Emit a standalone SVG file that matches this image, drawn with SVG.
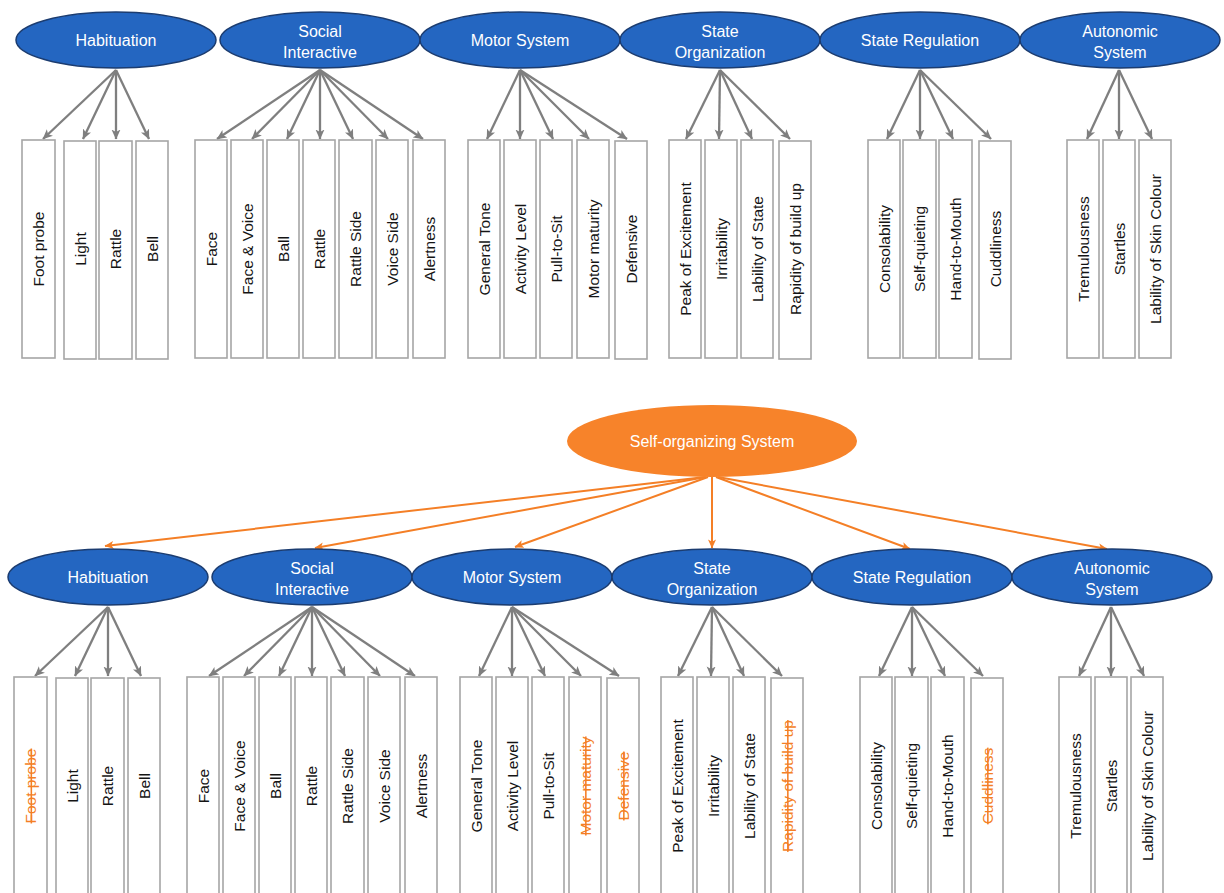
<svg xmlns="http://www.w3.org/2000/svg" width="1224" height="893" viewBox="0 0 1224 893">
<style>
.bg{fill:#ffffff}
.ell{fill:#2466C1;stroke:#1B3C70;stroke-width:1.5}
.root{fill:#F7832A}
.et{font-family:"Liberation Sans",Arial,sans-serif;font-size:16px;fill:#ffffff;text-anchor:middle}
.box{fill:#ffffff;stroke:#A6A6A6;stroke-width:1.6}
.bt{font-family:"Liberation Sans",Arial,sans-serif;font-size:15.5px;fill:#141414;text-anchor:middle}
.del{fill:#F47F26;text-decoration:line-through}
.g{stroke:#7F7F7F;stroke-width:2.3;fill:none;marker-end:url(#ag)}
.o{stroke:#F47F26;stroke-width:2;fill:none;marker-end:url(#ao)}
</style>
<defs>
<marker id="ag" viewBox="0 0 10 10" refX="9.5" refY="5" markerWidth="10" markerHeight="10" markerUnits="userSpaceOnUse" orient="auto">
<path d="M0,0.5 L10,5 L0,9.5 L2.5,5 z" fill="#7F7F7F"/>
</marker>
<marker id="ao" viewBox="0 0 10 10" refX="9.5" refY="5" markerWidth="9" markerHeight="9" markerUnits="userSpaceOnUse" orient="auto">
<path d="M0,0.5 L10,5 L0,9.5 L2.5,5 z" fill="#F47F26"/>
</marker>
</defs>
<rect class="bg" x="0" y="0" width="1224" height="893"/>

<g id="connectors">
<g id="top-connectors">
<line class="g" x1="116" y1="70" x2="43" y2="139"/>
<line class="g" x1="116" y1="70" x2="83" y2="139"/>
<line class="g" x1="116" y1="70" x2="116" y2="139"/>
<line class="g" x1="116" y1="70" x2="149" y2="139"/>
<line class="g" x1="320" y1="70" x2="217" y2="139"/>
<line class="g" x1="320" y1="70" x2="252" y2="139"/>
<line class="g" x1="320" y1="70" x2="287" y2="139"/>
<line class="g" x1="320" y1="70" x2="320" y2="139"/>
<line class="g" x1="320" y1="70" x2="353" y2="139"/>
<line class="g" x1="320" y1="70" x2="388" y2="139"/>
<line class="g" x1="320" y1="70" x2="423" y2="139"/>
<line class="g" x1="520" y1="70" x2="487" y2="139"/>
<line class="g" x1="520" y1="70" x2="520" y2="139"/>
<line class="g" x1="520" y1="70" x2="553" y2="139"/>
<line class="g" x1="520" y1="70" x2="589" y2="139"/>
<line class="g" x1="520" y1="70" x2="627" y2="139"/>
<line class="g" x1="720" y1="70" x2="686" y2="139"/>
<line class="g" x1="720" y1="70" x2="719" y2="139"/>
<line class="g" x1="720" y1="70" x2="752" y2="139"/>
<line class="g" x1="720" y1="70" x2="790" y2="139"/>
<line class="g" x1="920" y1="70" x2="887" y2="139"/>
<line class="g" x1="920" y1="70" x2="920" y2="139"/>
<line class="g" x1="920" y1="70" x2="953" y2="139"/>
<line class="g" x1="920" y1="70" x2="991" y2="139"/>
<line class="g" x1="1119" y1="70" x2="1087" y2="139"/>
<line class="g" x1="1119" y1="70" x2="1119" y2="139"/>
<line class="g" x1="1119" y1="70" x2="1152" y2="139"/>
</g>
<g id="bottom-connectors" transform="translate(-8,537)">
<line class="g" x1="116" y1="70" x2="43" y2="139"/>
<line class="g" x1="116" y1="70" x2="83" y2="139"/>
<line class="g" x1="116" y1="70" x2="116" y2="139"/>
<line class="g" x1="116" y1="70" x2="149" y2="139"/>
<line class="g" x1="320" y1="70" x2="217" y2="139"/>
<line class="g" x1="320" y1="70" x2="252" y2="139"/>
<line class="g" x1="320" y1="70" x2="287" y2="139"/>
<line class="g" x1="320" y1="70" x2="320" y2="139"/>
<line class="g" x1="320" y1="70" x2="353" y2="139"/>
<line class="g" x1="320" y1="70" x2="388" y2="139"/>
<line class="g" x1="320" y1="70" x2="423" y2="139"/>
<line class="g" x1="520" y1="70" x2="487" y2="139"/>
<line class="g" x1="520" y1="70" x2="520" y2="139"/>
<line class="g" x1="520" y1="70" x2="553" y2="139"/>
<line class="g" x1="520" y1="70" x2="589" y2="139"/>
<line class="g" x1="520" y1="70" x2="627" y2="139"/>
<line class="g" x1="720" y1="70" x2="686" y2="139"/>
<line class="g" x1="720" y1="70" x2="719" y2="139"/>
<line class="g" x1="720" y1="70" x2="752" y2="139"/>
<line class="g" x1="720" y1="70" x2="790" y2="139"/>
<line class="g" x1="920" y1="70" x2="887" y2="139"/>
<line class="g" x1="920" y1="70" x2="920" y2="139"/>
<line class="g" x1="920" y1="70" x2="953" y2="139"/>
<line class="g" x1="920" y1="70" x2="991" y2="139"/>
<line class="g" x1="1119" y1="70" x2="1087" y2="139"/>
<line class="g" x1="1119" y1="70" x2="1119" y2="139"/>
<line class="g" x1="1119" y1="70" x2="1152" y2="139"/>
</g>
<g id="root-connectors">
<line class="o" x1="705" y1="477" x2="105" y2="546"/>
<line class="o" x1="706" y1="477" x2="315" y2="548"/>
<line class="o" x1="708" y1="477" x2="515" y2="547"/>
<line class="o" x1="712" y1="477" x2="712" y2="548"/>
<line class="o" x1="716" y1="477" x2="910" y2="549"/>
<line class="o" x1="718" y1="477" x2="1107" y2="549"/>
</g>
</g>

<g id="top-row">
<g id="t-habituation"><ellipse class="ell" cx="116" cy="40" rx="100" ry="28"/><text class="et" x="116" y="46">Habituation</text></g>
<g id="t-social"><ellipse class="ell" cx="320" cy="40" rx="100" ry="28"/><text class="et" x="320" y="37">Social</text><text class="et" x="320" y="58">Interactive</text></g>
<g id="t-motor"><ellipse class="ell" cx="520" cy="40" rx="100" ry="28"/><text class="et" x="520" y="46">Motor System</text></g>
<g id="t-stateorg"><ellipse class="ell" cx="720" cy="40" rx="100" ry="28"/><text class="et" x="720" y="37">State</text><text class="et" x="720" y="58">Organization</text></g>
<g id="t-statereg"><ellipse class="ell" cx="920" cy="40" rx="100" ry="28"/><text class="et" x="920" y="46">State Regulation</text></g>
<g id="t-autonomic"><ellipse class="ell" cx="1120" cy="40" rx="100" ry="28"/><text class="et" x="1120" y="37">Autonomic</text><text class="et" x="1120" y="58">System</text></g>

<g id="t-footprobe"><rect class="box" x="22" y="140" width="33" height="218"/><text class="bt" transform="translate(38.5,249) rotate(-90)" y="5.5">Foot probe</text></g>
<g id="t-light"><rect class="box" x="64" y="141" width="32" height="218"/><text class="bt" transform="translate(80,249) rotate(-90)" y="5.5">Light</text></g>
<g id="t-rattle1"><rect class="box" x="99" y="141" width="33" height="218"/><text class="bt" transform="translate(115.5,249) rotate(-90)" y="5.5">Rattle</text></g>
<g id="t-bell"><rect class="box" x="136" y="141" width="32" height="218"/><text class="bt" transform="translate(152,249) rotate(-90)" y="5.5">Bell</text></g>

<g id="t-face"><rect class="box" x="195" y="140" width="32" height="218"/><text class="bt" transform="translate(211,249) rotate(-90)" y="5.5">Face</text></g>
<g id="t-facevoice"><rect class="box" x="231" y="140" width="32" height="218"/><text class="bt" transform="translate(247,249) rotate(-90)" y="5.5">Face &amp; Voice</text></g>
<g id="t-ball"><rect class="box" x="267" y="140" width="32" height="218"/><text class="bt" transform="translate(283,249) rotate(-90)" y="5.5">Ball</text></g>
<g id="t-rattle2"><rect class="box" x="303" y="140" width="32" height="218"/><text class="bt" transform="translate(319,249) rotate(-90)" y="5.5">Rattle</text></g>
<g id="t-rattleside"><rect class="box" x="339" y="140" width="33" height="218"/><text class="bt" transform="translate(355.5,249) rotate(-90)" y="5.5">Rattle Side</text></g>
<g id="t-voiceside"><rect class="box" x="376" y="140" width="32" height="218"/><text class="bt" transform="translate(392,249) rotate(-90)" y="5.5">Voice Side</text></g>
<g id="t-alertness"><rect class="box" x="413" y="140" width="32" height="218"/><text class="bt" transform="translate(429,249) rotate(-90)" y="5.5">Alertness</text></g>

<g id="t-generaltone"><rect class="box" x="468" y="140" width="32" height="218"/><text class="bt" transform="translate(484,249) rotate(-90)" y="5.5">General Tone</text></g>
<g id="t-activity"><rect class="box" x="504" y="140" width="32" height="218"/><text class="bt" transform="translate(520,249) rotate(-90)" y="5.5">Activity Level</text></g>
<g id="t-pulltosit"><rect class="box" x="540" y="140" width="32" height="218"/><text class="bt" transform="translate(556,249) rotate(-90)" y="5.5">Pull-to-Sit</text></g>
<g id="t-motormaturity"><rect class="box" x="577" y="140" width="32" height="218"/><text class="bt" transform="translate(593,249) rotate(-90)" y="5.5">Motor maturity</text></g>
<g id="t-defensive"><rect class="box" x="615" y="141" width="32" height="218"/><text class="bt" transform="translate(631,249) rotate(-90)" y="5.5">Defensive</text></g>

<g id="t-peak"><rect class="box" x="669" y="140" width="32" height="218"/><text class="bt" transform="translate(685,249) rotate(-90)" y="5.5">Peak of Excitement</text></g>
<g id="t-irritability"><rect class="box" x="705" y="140" width="32" height="218"/><text class="bt" transform="translate(721,249) rotate(-90)" y="5.5">Irritability</text></g>
<g id="t-lability"><rect class="box" x="741" y="140" width="32" height="218"/><text class="bt" transform="translate(757,249) rotate(-90)" y="5.5">Lability of State</text></g>
<g id="t-rapidity"><rect class="box" x="779" y="141" width="32" height="218"/><text class="bt" transform="translate(795,249) rotate(-90)" y="5.5">Rapidity of build up</text></g>

<g id="t-consolability"><rect class="box" x="868" y="140" width="32" height="218"/><text class="bt" transform="translate(884,249) rotate(-90)" y="5.5">Consolability</text></g>
<g id="t-selfquieting"><rect class="box" x="903" y="140" width="33" height="218"/><text class="bt" transform="translate(919.5,249) rotate(-90)" y="5.5">Self-quieting</text></g>
<g id="t-handtomouth"><rect class="box" x="939" y="140" width="33" height="218"/><text class="bt" transform="translate(955.5,249) rotate(-90)" y="5.5">Hand-to-Mouth</text></g>
<g id="t-cuddliness"><rect class="box" x="979" y="141" width="32" height="218"/><text class="bt" transform="translate(995,249) rotate(-90)" y="5.5">Cuddliness</text></g>

<g id="t-tremulousness"><rect class="box" x="1067" y="140" width="32" height="218"/><text class="bt" transform="translate(1083,249) rotate(-90)" y="5.5">Tremulousness</text></g>
<g id="t-startles"><rect class="box" x="1103" y="140" width="32" height="218"/><text class="bt" transform="translate(1119,249) rotate(-90)" y="5.5">Startles</text></g>
<g id="t-skincolour"><rect class="box" x="1139" y="140" width="32" height="218"/><text class="bt" transform="translate(1155,249) rotate(-90)" y="5.5">Lability of Skin Colour</text></g>
</g>

<g id="root"><ellipse class="root" cx="712" cy="441" rx="145" ry="36"/><text class="et" x="712" y="447">Self-organizing System</text></g>

<g id="bottom-row" transform="translate(-8,537)">
<g id="b-habituation"><ellipse class="ell" cx="116" cy="40" rx="100" ry="28"/><text class="et" x="116" y="46">Habituation</text></g>
<g id="b-social"><ellipse class="ell" cx="320" cy="40" rx="100" ry="28"/><text class="et" x="320" y="37">Social</text><text class="et" x="320" y="58">Interactive</text></g>
<g id="b-motor"><ellipse class="ell" cx="520" cy="40" rx="100" ry="28"/><text class="et" x="520" y="46">Motor System</text></g>
<g id="b-stateorg"><ellipse class="ell" cx="720" cy="40" rx="100" ry="28"/><text class="et" x="720" y="37">State</text><text class="et" x="720" y="58">Organization</text></g>
<g id="b-statereg"><ellipse class="ell" cx="920" cy="40" rx="100" ry="28"/><text class="et" x="920" y="46">State Regulation</text></g>
<g id="b-autonomic"><ellipse class="ell" cx="1120" cy="40" rx="100" ry="28"/><text class="et" x="1120" y="37">Autonomic</text><text class="et" x="1120" y="58">System</text></g>

<g id="b-footprobe"><rect class="box" x="22" y="140" width="33" height="218"/><text class="bt del" transform="translate(38.5,249) rotate(-90)" y="5.5">Foot probe</text></g>
<g id="b-light"><rect class="box" x="64" y="141" width="32" height="218"/><text class="bt" transform="translate(80,249) rotate(-90)" y="5.5">Light</text></g>
<g id="b-rattle1"><rect class="box" x="99" y="141" width="33" height="218"/><text class="bt" transform="translate(115.5,249) rotate(-90)" y="5.5">Rattle</text></g>
<g id="b-bell"><rect class="box" x="136" y="141" width="32" height="218"/><text class="bt" transform="translate(152,249) rotate(-90)" y="5.5">Bell</text></g>

<g id="b-face"><rect class="box" x="195" y="140" width="32" height="218"/><text class="bt" transform="translate(211,249) rotate(-90)" y="5.5">Face</text></g>
<g id="b-facevoice"><rect class="box" x="231" y="140" width="32" height="218"/><text class="bt" transform="translate(247,249) rotate(-90)" y="5.5">Face &amp; Voice</text></g>
<g id="b-ball"><rect class="box" x="267" y="140" width="32" height="218"/><text class="bt" transform="translate(283,249) rotate(-90)" y="5.5">Ball</text></g>
<g id="b-rattle2"><rect class="box" x="303" y="140" width="32" height="218"/><text class="bt" transform="translate(319,249) rotate(-90)" y="5.5">Rattle</text></g>
<g id="b-rattleside"><rect class="box" x="339" y="140" width="33" height="218"/><text class="bt" transform="translate(355.5,249) rotate(-90)" y="5.5">Rattle Side</text></g>
<g id="b-voiceside"><rect class="box" x="376" y="140" width="32" height="218"/><text class="bt" transform="translate(392,249) rotate(-90)" y="5.5">Voice Side</text></g>
<g id="b-alertness"><rect class="box" x="413" y="140" width="32" height="218"/><text class="bt" transform="translate(429,249) rotate(-90)" y="5.5">Alertness</text></g>

<g id="b-generaltone"><rect class="box" x="468" y="140" width="32" height="218"/><text class="bt" transform="translate(484,249) rotate(-90)" y="5.5">General Tone</text></g>
<g id="b-activity"><rect class="box" x="504" y="140" width="32" height="218"/><text class="bt" transform="translate(520,249) rotate(-90)" y="5.5">Activity Level</text></g>
<g id="b-pulltosit"><rect class="box" x="540" y="140" width="32" height="218"/><text class="bt" transform="translate(556,249) rotate(-90)" y="5.5">Pull-to-Sit</text></g>
<g id="b-motormaturity"><rect class="box" x="577" y="140" width="32" height="218"/><text class="bt del" transform="translate(593,249) rotate(-90)" y="5.5">Motor maturity</text></g>
<g id="b-defensive"><rect class="box" x="615" y="141" width="32" height="218"/><text class="bt del" transform="translate(631,249) rotate(-90)" y="5.5">Defensive</text></g>

<g id="b-peak"><rect class="box" x="669" y="140" width="32" height="218"/><text class="bt" transform="translate(685,249) rotate(-90)" y="5.5">Peak of Excitement</text></g>
<g id="b-irritability"><rect class="box" x="705" y="140" width="32" height="218"/><text class="bt" transform="translate(721,249) rotate(-90)" y="5.5">Irritability</text></g>
<g id="b-lability"><rect class="box" x="741" y="140" width="32" height="218"/><text class="bt" transform="translate(757,249) rotate(-90)" y="5.5">Lability of State</text></g>
<g id="b-rapidity"><rect class="box" x="779" y="141" width="32" height="218"/><text class="bt del" transform="translate(795,249) rotate(-90)" y="5.5">Rapidity of build up</text></g>

<g id="b-consolability"><rect class="box" x="868" y="140" width="32" height="218"/><text class="bt" transform="translate(884,249) rotate(-90)" y="5.5">Consolability</text></g>
<g id="b-selfquieting"><rect class="box" x="903" y="140" width="33" height="218"/><text class="bt" transform="translate(919.5,249) rotate(-90)" y="5.5">Self-quieting</text></g>
<g id="b-handtomouth"><rect class="box" x="939" y="140" width="33" height="218"/><text class="bt" transform="translate(955.5,249) rotate(-90)" y="5.5">Hand-to-Mouth</text></g>
<g id="b-cuddliness"><rect class="box" x="979" y="141" width="32" height="218"/><text class="bt del" transform="translate(995,249) rotate(-90)" y="5.5">Cuddliness</text></g>

<g id="b-tremulousness"><rect class="box" x="1067" y="140" width="32" height="218"/><text class="bt" transform="translate(1083,249) rotate(-90)" y="5.5">Tremulousness</text></g>
<g id="b-startles"><rect class="box" x="1103" y="140" width="32" height="218"/><text class="bt" transform="translate(1119,249) rotate(-90)" y="5.5">Startles</text></g>
<g id="b-skincolour"><rect class="box" x="1139" y="140" width="32" height="218"/><text class="bt" transform="translate(1155,249) rotate(-90)" y="5.5">Lability of Skin Colour</text></g>
</g>
</svg>
